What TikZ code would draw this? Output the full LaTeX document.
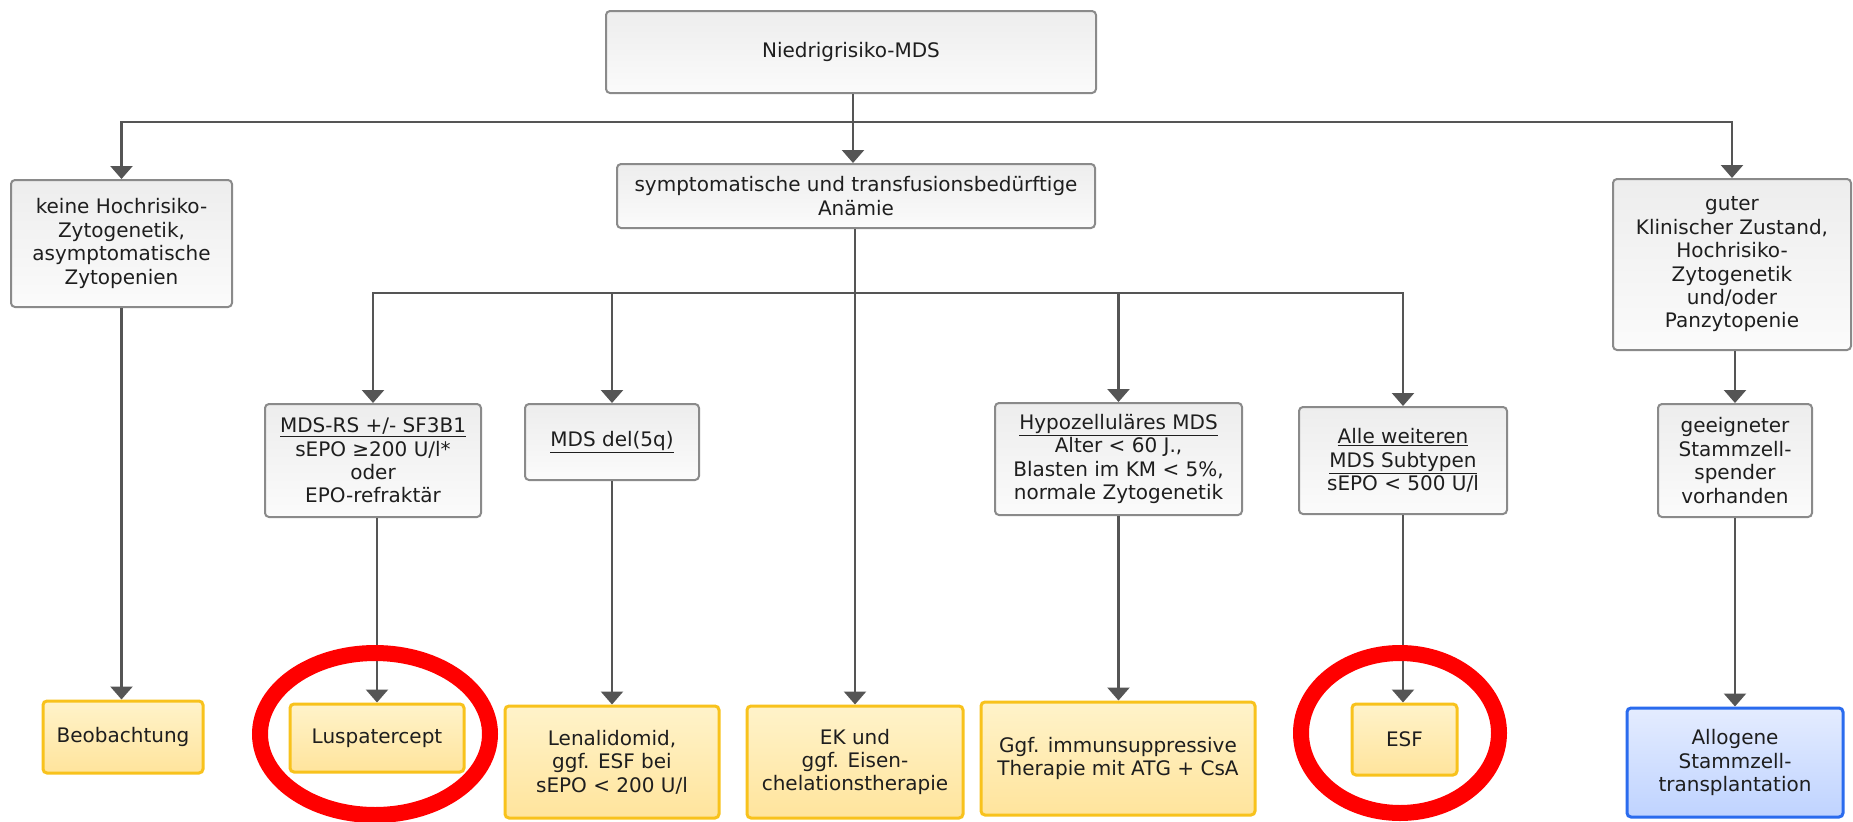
\documentclass[tikz,border=0pt]{standalone}
\usepackage{fontspec}
\setmainfont{DejaVu Sans}
\usetikzlibrary{arrows.meta}
\definecolor{lineg}{HTML}{8A8A8A}
\definecolor{fillgt}{HTML}{EDEDED}
\definecolor{fillgb}{HTML}{FBFBFB}
\definecolor{liney}{HTML}{F8C21C}
\definecolor{fillyt}{HTML}{FFF3CA}
\definecolor{fillyb}{HTML}{FFE49C}
\definecolor{lineb}{HTML}{2A6BEE}
\definecolor{fillbt}{HTML}{E4ECFF}
\definecolor{fillbb}{HTML}{BFD3FF}
\definecolor{arrg}{HTML}{555555}
\definecolor{txt}{HTML}{1E1E1E}
\tikzset{
	sz/.style 2 args={minimum width=#1pt,minimum height=#2pt},
	box/.style={draw=lineg,line width=2pt,rounded corners=4pt,top color=fillgt,bottom color=fillgb,
		align=center,text=txt,inner sep=0pt,font=\fontsize{20}{23.4}\selectfont},
	therapy/.style={box,draw=liney,line width=3pt,top color=fillyt,bottom color=fillyb},
	sct/.style={box,draw=lineb,line width=3pt,top color=fillbt,bottom color=fillbb},
	arr/.style={draw=arrg,line width=2.5pt,-{Triangle[width=22pt,length=13pt]}},
	redring/.style={draw=red,line width=16pt}
}
\begin{document}
\begin{tikzpicture}[x=1pt,y=-1pt]
	\fill[white] (0,0) rectangle (1853,822);
	\useasboundingbox (0,0) rectangle (1853,822);
	
	\node[box,sz={490}{82}] (mds) at (851,52) {Niedrigrisiko-MDS};
	
	\node[box,sz={221}{127}] (keine) at (121.5,243.5) {keine Hochrisiko-\\Zytogenetik,\\asymptomatische\\Zytopenien};
	\node[box,sz={478}{64}] (anaemie) at (856,196) {symptomatische und transfusionsbedürftige\\Anämie};
	\node[box,sz={238}{171}] (guter) at (1732,264.5) {guter\\Klinischer Zustand,\\Hochrisiko-\\Zytogenetik\\und/oder\\Panzytopenie};
	
	\node[box,sz={216}{113}] (rs) at (373,460.5) {\underline{MDS-RS +/- SF3B1}\\sEPO ≥200 U/l*\\oder\\EPO-refraktär};
	\node[box,sz={174}{76}] (del) at (612,442) {\underline{MDS del(5q)}};
	\node[box,sz={247}{112}] (hypo) at (1118.5,459) {\underline{Hypozelluläres MDS}\\Alter < 60 J.,\\Blasten im KM < 5\%,\\normale Zytogenetik};
	\node[box,sz={208}{107}] (alle) at (1403,460.5) {\underline{Alle weiteren}\\\underline{MDS Subtypen}\\sEPO < 500 U/l};
	\node[box,sz={154}{113}] (spender) at (1735,460.5) {geeigneter\\Stammzell-\\spender\\vorhanden};
	
	\node[therapy,sz={160}{72}] (beob) at (123,737) {Beobachtung};
	\node[therapy,sz={174}{68}] (lusp) at (377,738) {Luspatercept};
	\node[therapy,sz={214}{112}] (lena) at (612,762) {Lenalidomid,\\ggf. ESF bei\\sEPO < 200 U/l};
	\node[therapy,sz={216}{112}] (ek) at (855,762) {EK und\\ggf. Eisen-\\chelationstherapie};
	\node[therapy,sz={274}{113}] (ist) at (1118,758.5) {Ggf. immunsuppressive\\Therapie mit ATG + CsA};
	\node[therapy,sz={105}{71}] (esf) at (1404.5,739.5) {ESF};
	\node[sct,sz={216}{109}] (allo) at (1735,762.5) {Allogene\\Stammzell-\\transplantation};
	
	% Verzweigung unter Niedrigrisiko-MDS
	\coordinate (bus1) at (853,122);
	\draw[arr] (mds.south -| bus1) -- (bus1 |- anaemie.north);
	\draw[arr] (bus1) -| (keine.north);
	\draw[arr] (bus1) -| (guter.north);
	
	% Verzweigung unter der Anaemie
	\coordinate (bus2) at (855,293);
	\draw[arr] (anaemie.south -| bus2) -- (bus2 |- ek.north);
	\draw[arr] (bus2) -| (rs.north);
	\draw[arr] (bus2) -| (del.north);
	\draw[arr] (bus2) -| (hypo.north);
	\draw[arr] (bus2) -| (alle.north);
	
	\draw[arr] (keine) -- (keine |- beob.north);
	\draw[arr] (lusp |- rs.south) -- (lusp.north);
	\draw[arr] (del) -- (del |- lena.north);
	\draw[arr] (hypo) -- (hypo |- ist.north);
	\draw[arr] (alle) -- (alle |- esf.north);
	\draw[arr] (guter.south -| spender) -- (spender.north);
	\draw[arr] (spender) -- (spender |- allo.north);
	
	\draw[redring] (375,734) ellipse [x radius=115pt,y radius=81pt];
	\draw[redring] (1400,733) ellipse [x radius=99pt,y radius=80pt];
\end{tikzpicture}
\end{document}
